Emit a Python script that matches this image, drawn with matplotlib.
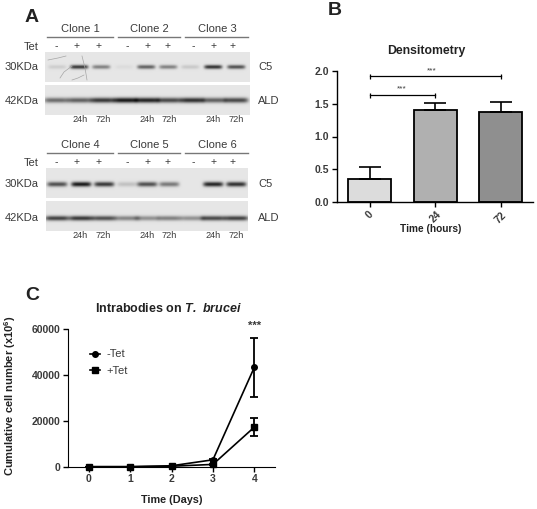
import numpy as np
import matplotlib
matplotlib.use('Agg')
import matplotlib.pyplot as plt

plt.rcParams['font.family'] = ['Liberation Sans', 'DejaVu Sans']
plt.rcParams['mathtext.fontset'] = 'custom'
plt.rcParams['mathtext.rm'] = 'Liberation Sans'
plt.rcParams['mathtext.bf'] = 'Liberation Sans:bold'
plt.rcParams['mathtext.bfit'] = 'Liberation Sans:italic:bold'

W, H = 537, 509
TXT = '#3a3a3a'

# panel A, band darkness per lane, read by eye
top_labels = ['Clone 1', 'Clone 2', 'Clone 3']
bottom_labels = ['Clone 4', 'Clone 5', 'Clone 6']
tet_marks = ['-', '+', '+', '-', '+', '+', '-', '+', '+']
times = ['24h', '72h']
c5_top = [0.10, 0.72, 0.42, 0.04, 0.55, 0.42, 0.12, 0.75, 0.62]
ald_top = [0.50, 0.55, 0.72, 0.85, 0.80, 0.65, 0.75, 0.55, 0.65]
c5_bottom = [0.62, 0.85, 0.72, 0.15, 0.62, 0.45, 0.0, 0.80, 0.75]
ald_bottom = [0.68, 0.72, 0.62, 0.40, 0.35, 0.42, 0.35, 0.65, 0.68]

# panel B
dens_times = ['0', '24', '72']
dens_mean = [0.35, 1.40, 1.38]
dens_err = [0.18, 0.11, 0.14]
dens_colors = ['#dcdcdc', '#b0b0b0', '#8f8f8f']

# panel C
days = [0, 1, 2, 3, 4]
minus_tet = [0, 0, 400, 3000, 43200]
minus_err = [0, 0, 100, 200, 12800]
plus_tet = [0, 0, 200, 1000, 17200]
plus_err = [0, 0, 100, 200, 3800]

fig = plt.figure(figsize=(W / 100, H / 100), dpi=100)


def px_axes(x0, y0, x1, y1):
    return fig.add_axes([x0 / W, 1 - y1 / H, (x1 - x0) / W, (y1 - y0) / H])


def blot(x0, y0, x1, y1, lanes, darkness, yc, half_w, half_h):
    ax = px_axes(x0, y0, x1, y1)
    xx, yy = np.meshgrid(np.arange(x0, x1, 0.5), np.arange(y0, y1, 0.5))
    img = np.full(xx.shape, 0.90)
    for lx, d in zip(lanes, darkness):
        prof_x = np.exp(-np.abs((xx - lx) / half_w) ** 6)
        prof_y = np.exp(-((yy - yc) / half_h) ** 2)
        img -= 0.95 * d * prof_x * prof_y
    ax.imshow(np.clip(img, 0.05, 1), cmap='gray', vmin=0, vmax=1, aspect='auto',
              extent=(x0, x1, y1, y0), interpolation='bilinear')
    ax.axis('off')


blot(45, 52, 250, 82, [57, 79, 101, 124, 146, 168, 190, 213, 236], c5_top, 66.7, 9, 2.0)
blot(45, 85, 250, 115, [56, 79, 102, 125, 147, 169, 192, 214, 236], ald_top, 100, 12, 2.6)
blot(46, 168, 248, 198, [57, 81, 104, 127, 147, 169, 192, 213, 236], c5_bottom, 184, 10, 2.4)
blot(46, 201, 248, 231, [57, 81, 104, 127, 147, 169, 192, 213, 236], ald_bottom, 218, 12, 2.4)

# overlay in pixel coordinates for the labels of panel A
ov = fig.add_axes([0, 0, 1, 1], zorder=5)
ov.set_xlim(0, W)
ov.set_ylim(H, 0)
ov.axis('off')
ov.patch.set_alpha(0)

# scratches on the first blot
for sx, sy in [([48, 58, 66], [60, 58, 56]), ([60, 64, 72], [78, 72, 66]),
               ([72, 78, 84], [80, 78, 75]), ([82, 85, 87], [56, 68, 80])]:
    ov.plot(sx, sy, color='#a5a5a5', lw=0.5)

clone_spans = [(46.7, 112.7), (118, 180), (185, 248)]
tet_x = [56, 77, 99, 127, 148, 168, 193, 214, 233]
time_x = [80, 103, 147, 169, 213, 236]


def panel_a_labels(dy, labels):
    for (a, b), lab in zip(clone_spans, labels):
        ov.plot([a, b], [37.3 + dy, 37.3 + dy], color='#777777', lw=1.0)
        ov.text((a + b) / 2 + 0.5, 28.5 + dy, lab, ha='center', va='center', fontsize=8, color=TXT)
    ov.text(39, 46.5 + dy, 'Tet', ha='right', va='center', fontsize=8, color=TXT)
    for x, m in zip(tet_x, tet_marks):
        ov.text(x, 46 + dy, m, ha='center', va='center', fontsize=7.5, color=TXT)
    for i, x in enumerate(time_x):
        ov.text(x, 119.5 + dy, times[i % 2], ha='center', va='center', fontsize=6.6, color=TXT)


panel_a_labels(0, top_labels)
panel_a_labels(116, bottom_labels)
for yy, kda, name in [(67, '30KDa', 'C5'), (101, '42KDa', 'ALD'),
                      (184, '30KDa', 'C5'), (218, '42KDa', 'ALD')]:
    ov.text(39, yy, kda, ha='right', va='center', fontsize=8, color=TXT)
    ov.text(258, yy, name, ha='left', va='center', fontsize=8, color=TXT)

ov.text(25, 17, 'A', fontsize=14, fontweight='bold', va='center', color='#222222')
ov.text(328, 10, 'B', fontsize=14, fontweight='bold', va='center', color='#222222')
ov.text(25, 295, 'C', fontsize=14, fontweight='bold', va='center', color='#222222')

# panel B
ax = px_axes(336.7, 71, 533, 202)
x = np.arange(len(dens_times))
ax.bar(x, dens_mean, width=0.66, color=dens_colors, edgecolor='black', linewidth=1.3)
ax.errorbar(x, dens_mean, yerr=[[0] * 3, dens_err], fmt='none', ecolor='black',
            elinewidth=1.2, capsize=8, capthick=1.2)
ax.set_xlim(-0.5, 2.49)
ax.set_ylim(0, 2)
ax.set_yticks([0, 0.5, 1, 1.5, 2])
ax.set_yticklabels(['0.0', '0.5', '1.0', '1.5', '2.0'], fontweight='bold', fontsize=7.5, color=TXT)
ax.set_xticks(x)
ax.set_xticklabels(dens_times, rotation=45, ha='center', fontweight='bold', fontsize=7.5, color=TXT)
ax.tick_params(length=3.5, width=1, pad=2)
for s in ['top', 'right']:
    ax.spines[s].set_visible(False)
for s in ['left', 'bottom']:
    ax.spines[s].set_linewidth(1)
ax.errorbar([0, 2], [1.92, 1.92], yerr=0.04, color='black', lw=0.9, capsize=0)
ax.errorbar([0, 1], [1.63, 1.63], yerr=0.04, color='black', lw=0.9, capsize=0)
ax.patch.set_alpha(0)
ov.text(431.5, 70.5, '***', ha='center', va='center', fontsize=6, color=TXT)
ov.text(402, 89, '***', ha='center', va='center', fontsize=6, color=TXT)
ov.text(426, 51, 'Densitometry', ha='center', va='center', fontsize=8.8, fontweight='bold', color='#222222')
ov.text(431, 229, 'Time (hours)', ha='center', va='center', fontsize=7.3, fontweight='bold', color='#222222')

# panel C
ax2 = px_axes(68, 328.7, 275.3, 466.7)
ax2.plot(days, minus_tet, '-o', color='black', ms=4, lw=1.2, clip_on=False, label='-Tet')
ax2.plot(days, plus_tet, '-s', color='black', ms=4, lw=1.2, clip_on=False, label='+Tet')
ax2.errorbar(days, minus_tet, yerr=minus_err, fmt='none', ecolor='black',
             elinewidth=1.3, capsize=2.9, capthick=1.3, clip_on=False)
ax2.errorbar(days, plus_tet, yerr=plus_err, fmt='none', ecolor='black',
             elinewidth=1.3, capsize=2.9, capthick=1.3, clip_on=False)
ax2.set_xlim(-0.5, 4.507)
ax2.set_ylim(0, 60000)
ax2.set_xticks(days)
ax2.set_yticks([0, 20000, 40000, 60000])
ax2.tick_params(length=3.5, width=1, pad=2, labelsize=7.5, labelcolor=TXT)
for lab in ax2.get_xticklabels() + ax2.get_yticklabels():
    lab.set_fontweight('bold')
for s in ['top', 'right']:
    ax2.spines[s].set_visible(False)
ax2.patch.set_alpha(0)
ax2.legend(loc='upper left', bbox_to_anchor=(0.106, 0.85), frameon=False, fontsize=8,
           handlelength=0.9, handletextpad=0.6, labelspacing=0.55, labelcolor=TXT,
           borderpad=0, borderaxespad=0)

ov.text(168, 308, r'Intrabodies on $\mathbfit{T.\ brucei}$', ha='center', va='center',
        fontsize=9, fontweight='bold', color='#222222')
ov.text(10, 396, r'Cumulative cell number (x10$^{\mathbf{6}}$)', rotation=90, ha='center',
        va='center', fontsize=8, fontweight='bold', color='#222222')
ov.text(172, 500, 'Time (Days)', ha='center', va='center', fontsize=7.8, fontweight='bold', color='#222222')
ov.text(255, 326, '***', ha='center', va='center', fontsize=8, fontweight='bold', color=TXT)

fig.savefig('out.png', dpi=100)
